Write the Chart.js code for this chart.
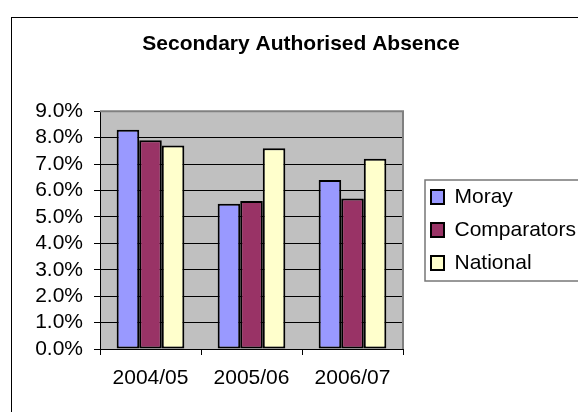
<!DOCTYPE html>
<html>
<head>
<meta charset="utf-8">
<script src="https://cdn.jsdelivr.net/npm/chart.js@4.4.0/dist/chart.umd.min.js"></script>
<style>
  html, body { margin: 0; padding: 0; overflow: hidden; background: #ffffff; }
  #wrap { width: 600px; height: 412px; position: relative; }
</style>
</head>
<body>
<div id="wrap"><canvas id="absence"></canvas></div>
<script>
// data (percent)
const years = ["2004/05", "2005/06", "2006/07"];
const moray = [8.3, 5.5, 6.4];
const comparators = [7.9, 5.6, 5.7];
const national = [7.7, 7.6, 7.2];
const yTicks = [0, 1, 2, 3, 4, 5, 6, 7, 8, 9];

const fontName = "'Liberation Sans', Arial, sans-serif";

// excel look: grey plot area, outer frame, boxed legend
const excelFrame = {
  id: 'excelFrame',
  afterLayout(chart) {
    // push legend a bit away from plot, like the original
    chart.legend.left += 16;
    chart.legend.right += 16;
  },
  beforeDraw(chart) {
    const ctx = chart.ctx;
    const a = chart.chartArea;
    ctx.save();
    ctx.strokeStyle = '#000000';
    ctx.lineWidth = 1;
    ctx.strokeRect(11.5, 17.5, 700, 500);
    ctx.fillStyle = '#c0c0c0';
    ctx.fillRect(a.left, a.top, a.right - a.left, a.bottom - a.top);
    ctx.restore();
  },
  afterDraw(chart) {
    const ctx = chart.ctx;
    const a = chart.chartArea;
    ctx.save();
    ctx.strokeStyle = '#808080';
    ctx.lineWidth = 2;
    ctx.beginPath();
    ctx.moveTo(a.left, a.top);
    ctx.lineTo(a.right, a.top);
    ctx.lineTo(a.right, a.bottom);
    ctx.stroke();
    // legend box
    ctx.strokeStyle = '#777777';
    ctx.lineWidth = 1.5;
    ctx.strokeRect(425, 180, 400, 101);
    ctx.restore();
  }
};

new Chart(document.getElementById('absence'), {
  type: 'bar',
  data: {
    labels: years,
    datasets: [
      { label: 'Moray', data: moray, backgroundColor: '#9999ff' },
      { label: 'Comparators', data: comparators, backgroundColor: '#993366' },
      { label: 'National', data: national, backgroundColor: '#ffffcc' }
    ]
  },
  options: {
    responsive: true,
    maintainAspectRatio: false,
    animation: false,
    datasets: {
      bar: {
        borderColor: '#000000',
        borderWidth: 2,
        borderSkipped: false,
        categoryPercentage: 0.67,
        barPercentage: 1
      }
    },
    layout: { padding: { left: 36, right: 34, top: 0, bottom: 21 } },
    plugins: {
      title: {
        display: true,
        text: 'Secondary Authorised Absence',
        color: '#000000',
        font: { family: fontName, size: 21, weight: 'bold' },
        padding: { top: 32, bottom: 54 }
      },
      legend: {
        position: 'right',
        fullSize: false,
        maxWidth: 163,
        labels: {
          color: '#000000',
          font: { family: fontName, size: 21 },
          boxWidth: 13,
          boxHeight: 14,
          padding: 12
        }
      },
      tooltip: { enabled: false }
    },
    scales: {
      x: {
        offset: true,
        border: { display: true, color: '#000000', width: 1 },
        grid: { display: true, drawOnChartArea: false, drawTicks: true, tickLength: 6, color: '#000000' },
        ticks: { color: '#000000', font: { family: fontName, size: 21 }, padding: 11, maxRotation: 0 },
        afterFit(scale) { scale.height = 42; }
      },
      y: {
        min: 0,
        max: 9,
        afterBuildTicks(scale) { scale.ticks = yTicks.map(v => ({ value: v })); },
        border: { display: true, color: '#000000', width: 1 },
        grid: { color: '#000000', lineWidth: 1, drawTicks: true, tickLength: 6 },
        ticks: {
          color: '#000000',
          font: { family: fontName, size: 21 },
          padding: 11,
          autoSkip: false,
          callback: v => v.toFixed(1) + '%'
        },
        afterFit(scale) { scale.width = 64; }
      }
    }
  },
  plugins: [excelFrame]
});
</script>
</body>
</html>
